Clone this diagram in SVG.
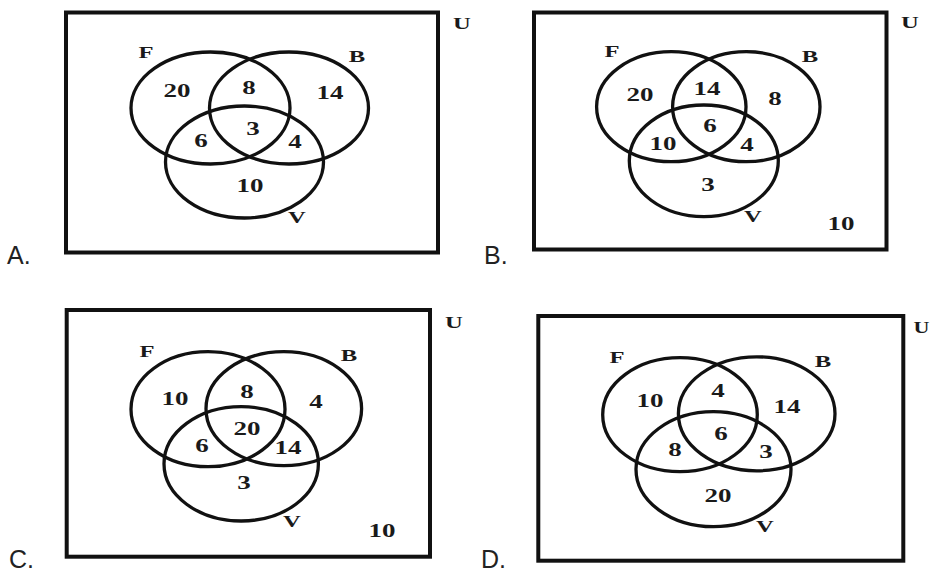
<svg xmlns="http://www.w3.org/2000/svg" width="931" height="573" viewBox="0 0 931 573">
<style>
.bg{fill:#fff}
.box{fill:none;stroke:#111;stroke-width:4}
.set{fill:none;stroke:#111;stroke-width:3.3}
.t{font-family:"Liberation Serif","Times New Roman",serif;font-weight:bold;font-size:18px;fill:#1a1a1a;text-anchor:middle}
.l{font-size:17px}
.opt{font-family:"Liberation Sans",Arial,sans-serif;font-size:25px;fill:#222}
</style>
<rect class="bg" x="0" y="0" width="931" height="573"/>

<g id="panelA">
  <text class="opt" x="7" y="264">A.</text>
  <rect class="box" x="66" y="12.5" width="372" height="240"/>
  <text class="t l" transform="translate(462 29) scale(1.45 1)">U</text>
  <g id="A-F"><ellipse class="set" cx="210.5" cy="108" rx="79.5" ry="56"/><text class="t l" transform="translate(146 58) scale(1.45 1)">F</text></g>
  <g id="A-B"><ellipse class="set" cx="289" cy="108" rx="79.5" ry="56"/><text class="t l" transform="translate(357 62) scale(1.45 1)">B</text></g>
  <g id="A-V"><ellipse class="set" cx="244.5" cy="162" rx="79" ry="56"/><text class="t l" transform="translate(297 223) scale(1.45 1)">V</text></g>
  <text class="t" transform="translate(177 97) scale(1.5 1)">20</text>
  <text class="t" transform="translate(249 94) scale(1.5 1)">8</text>
  <text class="t" transform="translate(330 99) scale(1.5 1)">14</text>
  <text class="t" transform="translate(201 147) scale(1.5 1)">6</text>
  <text class="t" transform="translate(253 135) scale(1.5 1)">3</text>
  <text class="t" transform="translate(295 148) scale(1.5 1)">4</text>
  <text class="t" transform="translate(250 192) scale(1.5 1)">10</text>
</g>

<g id="panelB">
  <text class="opt" x="484" y="264">B.</text>
  <rect class="box" x="534" y="12.5" width="352.5" height="237"/>
  <text class="t l" transform="translate(910 28) scale(1.45 1)">U</text>
  <g id="B-F"><ellipse class="set" cx="671.3" cy="106.7" rx="74.7" ry="55"/><text class="t l" transform="translate(612 57) scale(1.45 1)">F</text></g>
  <g id="B-B"><ellipse class="set" cx="746.3" cy="106.7" rx="73.7" ry="55"/><text class="t l" transform="translate(810 62) scale(1.45 1)">B</text></g>
  <g id="B-V"><ellipse class="set" cx="703.8" cy="160.8" rx="74.5" ry="55.8"/><text class="t l" transform="translate(753 222) scale(1.45 1)">V</text></g>
  <text class="t" transform="translate(640 101) scale(1.5 1)">20</text>
  <text class="t" transform="translate(707 95) scale(1.5 1)">14</text>
  <text class="t" transform="translate(775 105) scale(1.5 1)">8</text>
  <text class="t" transform="translate(710 132) scale(1.5 1)">6</text>
  <text class="t" transform="translate(663 150) scale(1.5 1)">10</text>
  <text class="t" transform="translate(747 151) scale(1.5 1)">4</text>
  <text class="t" transform="translate(708 191) scale(1.5 1)">3</text>
  <text class="t" transform="translate(841 230) scale(1.5 1)">10</text>
</g>

<g id="panelC">
  <text class="opt" x="9" y="568">C.</text>
  <rect class="box" x="66.7" y="310" width="363.3" height="246.7"/>
  <text class="t l" transform="translate(454 328) scale(1.45 1)">U</text>
  <g id="C-F"><ellipse class="set" cx="208" cy="409.2" rx="77" ry="57.5"/><text class="t l" transform="translate(147 356.7) scale(1.45 1)">F</text></g>
  <g id="C-B"><ellipse class="set" cx="283.8" cy="408.7" rx="77.8" ry="57"/><text class="t l" transform="translate(349 360.7) scale(1.45 1)">B</text></g>
  <g id="C-V"><ellipse class="set" cx="241.2" cy="463.8" rx="77.2" ry="57.2"/><text class="t l" transform="translate(292 527) scale(1.45 1)">V</text></g>
  <text class="t" transform="translate(175 405) scale(1.5 1)">10</text>
  <text class="t" transform="translate(247 398) scale(1.5 1)">8</text>
  <text class="t" transform="translate(316 408) scale(1.5 1)">4</text>
  <text class="t" transform="translate(247 435) scale(1.5 1)">20</text>
  <text class="t" transform="translate(202 451.7) scale(1.5 1)">6</text>
  <text class="t" transform="translate(288 454) scale(1.5 1)">14</text>
  <text class="t" transform="translate(244 489) scale(1.5 1)">3</text>
  <text class="t" transform="translate(382 536.7) scale(1.5 1)">10</text>
</g>

<g id="panelD">
  <text class="opt" x="481" y="568">D.</text>
  <rect class="box" x="538.3" y="316" width="365" height="244.7"/>
  <text class="t l" transform="translate(921.5 333) scale(1.3 1)">U</text>
  <g id="D-F"><ellipse class="set" cx="680" cy="414.7" rx="77.3" ry="57"/><text class="t l" transform="translate(617 363.3) scale(1.45 1)">F</text></g>
  <g id="D-B"><ellipse class="set" cx="756.7" cy="413.8" rx="78.3" ry="57"/><text class="t l" transform="translate(823 366.7) scale(1.45 1)">B</text></g>
  <g id="D-V"><ellipse class="set" cx="713.5" cy="469.2" rx="77.5" ry="57.5"/><text class="t l" transform="translate(765 531.7) scale(1.45 1)">V</text></g>
  <text class="t" transform="translate(650 407) scale(1.5 1)">10</text>
  <text class="t" transform="translate(718 396.7) scale(1.5 1)">4</text>
  <text class="t" transform="translate(787 412.7) scale(1.5 1)">14</text>
  <text class="t" transform="translate(721 440) scale(1.5 1)">6</text>
  <text class="t" transform="translate(675 455.7) scale(1.5 1)">8</text>
  <text class="t" transform="translate(766 458) scale(1.5 1)">3</text>
  <text class="t" transform="translate(718 501.7) scale(1.5 1)">20</text>
</g>
</svg>
